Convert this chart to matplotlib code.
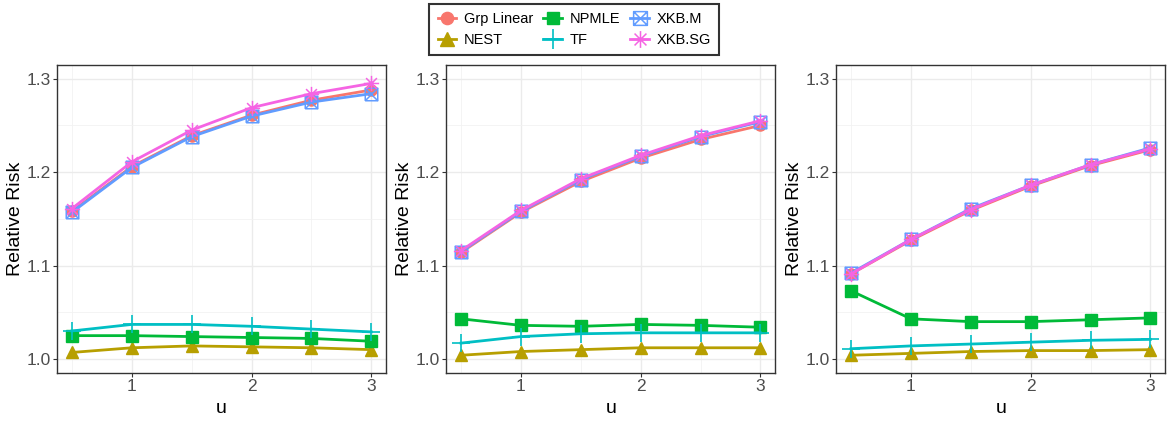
import numpy as np
import matplotlib
matplotlib.use('Agg')
import matplotlib.pyplot as plt
from matplotlib.path import Path
from matplotlib.lines import Line2D

plt.rcParams['font.family'] = ['Liberation Sans', 'DejaVu Sans']

# data
u = [0.5, 1.0, 1.5, 2.0, 2.5, 3.0]
methods = ['Grp Linear', 'NEST', 'NPMLE', 'TF', 'XKB.M', 'XKB.SG']

panel1 = {
    'Grp Linear': [1.158, 1.206, 1.239, 1.261, 1.277, 1.288],
    'NEST':       [1.007, 1.012, 1.014, 1.013, 1.012, 1.010],
    'NPMLE':      [1.025, 1.025, 1.024, 1.023, 1.022, 1.019],
    'TF':         [1.030, 1.037, 1.037, 1.035, 1.032, 1.029],
    'XKB.M':      [1.157, 1.205, 1.238, 1.260, 1.275, 1.284],
    'XKB.SG':     [1.161, 1.211, 1.245, 1.269, 1.284, 1.295],
}
panel2 = {
    'Grp Linear': [1.114, 1.157, 1.190, 1.215, 1.235, 1.250],
    'NEST':       [1.004, 1.008, 1.010, 1.012, 1.012, 1.012],
    'NPMLE':      [1.043, 1.036, 1.035, 1.037, 1.036, 1.034],
    'TF':         [1.017, 1.024, 1.027, 1.028, 1.028, 1.028],
    'XKB.M':      [1.115, 1.158, 1.192, 1.217, 1.238, 1.254],
    'XKB.SG':     [1.116, 1.159, 1.193, 1.218, 1.239, 1.255],
}
panel3 = {
    'Grp Linear': [1.091, 1.127, 1.159, 1.185, 1.207, 1.224],
    'NEST':       [1.004, 1.006, 1.008, 1.009, 1.009, 1.010],
    'NPMLE':      [1.073, 1.043, 1.040, 1.040, 1.042, 1.044],
    'TF':         [1.011, 1.014, 1.016, 1.018, 1.020, 1.021],
    'XKB.M':      [1.092, 1.128, 1.161, 1.186, 1.208, 1.226],
    'XKB.SG':     [1.091, 1.128, 1.160, 1.186, 1.208, 1.225],
}
panels = [panel1, panel2, panel3]

# ggplot default hues
colors = {
    'Grp Linear': '#F8766D', 'NEST': '#B79F00', 'NPMLE': '#00BA38',
    'TF': '#00BFC4', 'XKB.M': '#619CFF', 'XKB.SG': '#F564E3',
}

# boxed x and asterisk markers (ggplot shapes 7 and 8)
boxx = Path([(-1, -1), (1, -1), (1, 1), (-1, 1), (-1, -1),
             (-1, -1), (1, 1), (-1, 1), (1, -1)],
            [Path.MOVETO, Path.LINETO, Path.LINETO, Path.LINETO, Path.LINETO,
             Path.MOVETO, Path.LINETO, Path.MOVETO, Path.LINETO])
r = 0.7071
aster = Path([(-1, 0), (1, 0), (0, -1), (0, 1), (-r, -r), (r, r), (-r, r), (r, -r)],
             [Path.MOVETO, Path.LINETO] * 4)

styles = {
    'Grp Linear': dict(marker='o', ms=8),
    'NEST':       dict(marker='^', ms=9),
    'NPMLE':      dict(marker='s', ms=8.5),
    'TF':         dict(marker='+', ms=13, mew=1.2),
    'XKB.M':      dict(marker=boxx, ms=9, mfc='none', mew=1.1),
    'XKB.SG':     dict(marker=aster, ms=11, mfc='none', mew=1.1),
}

fig = plt.figure(figsize=(11.67, 4.21), dpi=100)
lefts = [0.0488, 0.3822, 0.7164]
width = 0.2822
bottom, height = 0.114, 0.7316

for left, data in zip(lefts, panels):
    ax = fig.add_axes([left, bottom, width, height])
    ax.set_facecolor('white')
    for m in methods:
        ax.plot(u, data[m], color=colors[m], lw=2.0, **styles[m])
    ax.set_xlim(0.375, 3.125)
    ax.set_ylim(0.985, 1.3147)
    ax.set_xticks([1, 2, 3])
    ax.set_xticks([0.5, 1.5, 2.5], minor=True)
    ax.set_yticks([1.0, 1.1, 1.2, 1.3])
    ax.set_yticklabels(['1.0', '1.1', '1.2', '1.3'])
    ax.set_yticks([1.05, 1.15, 1.25], minor=True)
    ax.grid(which='major', color='#EBEBEB', lw=1.0)
    ax.grid(which='minor', color='#F2F2F2', lw=0.6)
    ax.set_axisbelow(True)
    ax.tick_params(which='major', length=3, width=0.8, color='#333333',
                   labelcolor='#4D4D4D', labelsize=12.5, pad=1.5)
    ax.tick_params(which='minor', length=0)
    for s in ax.spines.values():
        s.set_color('#333333')
        s.set_linewidth(1.0)
    ax.set_xlabel('u', fontsize=14, labelpad=4)
    ax.set_ylabel('Relative Risk', fontsize=14, labelpad=1.5)

handles = [Line2D([], [], color=colors[m], lw=2.0, **styles[m]) for m in methods]
leg = fig.legend(handles, methods, loc='center', bbox_to_anchor=(0.492, 0.93),
                 ncol=3, frameon=True, fontsize=10.5, handlelength=1.3,
                 handletextpad=0.5, columnspacing=0.7, labelspacing=0.45,
                 borderpad=0.55, borderaxespad=0, fancybox=False,
                 markerscale=1.1)
leg.get_frame().set_edgecolor('black')
leg.get_frame().set_linewidth(1.5)

fig.savefig('out.png', dpi=100, facecolor='white')
